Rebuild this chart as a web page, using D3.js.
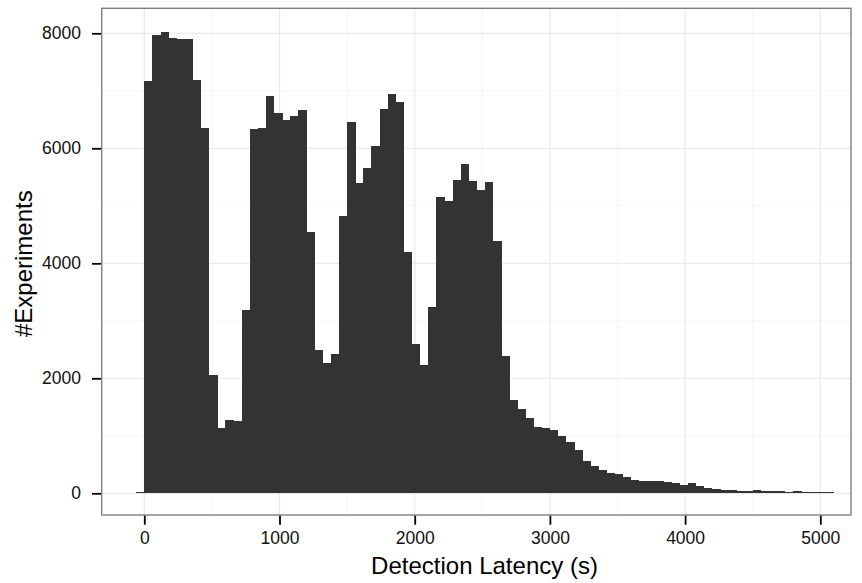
<!DOCTYPE html>
<html>
<head>
<meta charset="utf-8">
<script src="https://cdn.jsdelivr.net/npm/d3@7"></script>
<style>
  html, body { margin: 0; padding: 0; background: #fff; }
  svg { display: block; }
  text { font-family: "Liberation Sans", Arial, Helvetica, sans-serif; }
</style>
</head>
<body>
<svg id="chart" width="862" height="583"></svg>
<script>
// ---- data ----
const binWidth = 60; // seconds
const binStarts = d3.range(-60, 5100, 60);
const counts = [
  0,
  7170, 7976, 8023, 7918, 7901, 7901, 7188, 6353, 2058, 1136,
  1275, 1257, 3188, 6336, 6353, 6910, 6614, 6492, 6562, 6666,
  4544, 2497, 2271, 2423, 4823, 6458, 5397, 5658, 6040, 6684,
  6945, 6805, 4197, 2597, 2231, 3240, 5154, 5084, 5449, 5727,
  5432, 5275, 5414, 4388, 2388, 1623, 1466, 1309, 1153, 1136,
  1101, 997, 892, 753, 562, 475, 405, 353, 330, 278,
  231, 214, 214, 214, 197, 174, 144, 179, 127, 92,
  75, 57, 52, 40, 40, 57, 40, 40, 40, 23,
  40, 29, 23, 17, 10
];
const xTicks = [0, 1000, 2000, 3000, 4000, 5000];
const xMinor = [500, 1500, 2500, 3500, 4500];
const yTicks = [0, 2000, 4000, 6000, 8000];
const yMinor = [1000, 3000, 5000, 7000];
const xTitle = "Detection Latency (s)";
const yTitle = "#Experiments";

// ---- layout ----
const panel = { left: 101.7, right: 851, top: 8.3, bottom: 515 };
const x = d3.scaleLinear().domain([0, 5000]).range([144.3, 820.3]);
const y = d3.scaleLinear().domain([0, 8000]).range([493.3, 33.3]);

const svg = d3.select("#chart");

// panel background
svg.append("rect")
  .attr("x", panel.left).attr("y", panel.top)
  .attr("width", panel.right - panel.left).attr("height", panel.bottom - panel.top)
  .attr("fill", "#fff");

const grid = svg.append("g");
// minor grid
grid.selectAll("line.xmin").data(xMinor).join("line")
  .attr("x1", d => x(d)).attr("x2", d => x(d))
  .attr("y1", panel.top).attr("y2", panel.bottom)
  .attr("stroke", "#f7f7f7").attr("stroke-width", 1.3);
grid.selectAll("line.ymin").data(yMinor).join("line")
  .attr("y1", d => y(d)).attr("y2", d => y(d))
  .attr("x1", panel.left).attr("x2", panel.right)
  .attr("stroke", "#f7f7f7").attr("stroke-width", 1.3);
// major grid
grid.selectAll("line.xmaj").data(xTicks).join("line")
  .attr("x1", d => x(d)).attr("x2", d => x(d))
  .attr("y1", panel.top).attr("y2", panel.bottom)
  .attr("stroke", "#ebebeb").attr("stroke-width", 1.3);
grid.selectAll("line.ymaj").data(yTicks).join("line")
  .attr("y1", d => y(d)).attr("y2", d => y(d))
  .attr("x1", panel.left).attr("x2", panel.right)
  .attr("stroke", "#ebebeb").attr("stroke-width", 1.3);

// bars
const bins = binStarts.map((s, i) => ({ x0: s, x1: s + binWidth, n: counts[i] }));
svg.append("g").selectAll("rect").data(bins).join("rect")
  .attr("x", d => x(d.x0))
  .attr("width", d => x(d.x1) - x(d.x0) + 0.3)
  .attr("y", d => Math.min(y(d.n), y(0) - 1))
  .attr("height", d => Math.max(1, y(0) - y(d.n)))
  .attr("fill", "#333333")
  .attr("shape-rendering", "crispEdges");

// panel border
svg.append("rect")
  .attr("x", panel.left).attr("y", panel.top)
  .attr("width", panel.right - panel.left).attr("height", panel.bottom - panel.top)
  .attr("fill", "none").attr("stroke", "#7f7f7f").attr("stroke-width", 1.4);

// x axis
const xAxis = d3.axisBottom(x).tickValues(xTicks).tickSize(9).tickPadding(7).tickFormat(d3.format("d"));
const gx = svg.append("g").attr("transform", `translate(0,${panel.bottom + 0.7})`).call(xAxis);
gx.select(".domain").remove();
gx.selectAll(".tick line").attr("stroke", "#000").attr("stroke-width", 1.8);
gx.selectAll(".tick text").attr("fill", "#111").attr("font-size", 17.5)
  .style("font-family", '"Liberation Sans", Arial, sans-serif');

// y axis
const yAxis = d3.axisLeft(y).tickValues(yTicks).tickSize(9).tickPadding(11).tickFormat(d3.format("d"));
const gy = svg.append("g").attr("transform", `translate(${panel.left - 0.7},0)`).call(yAxis);
gy.select(".domain").remove();
gy.selectAll(".tick line").attr("stroke", "#000").attr("stroke-width", 1.8);
gy.selectAll(".tick text").attr("fill", "#111").attr("font-size", 17.5)
  .style("font-family", '"Liberation Sans", Arial, sans-serif');

// titles
svg.append("text")
  .attr("x", 484.5).attr("y", 574)
  .attr("text-anchor", "middle").attr("font-size", 24).attr("fill", "#000")
  .text(xTitle);
svg.append("text")
  .attr("transform", `translate(32,${(panel.top + panel.bottom) / 2 + 2}) rotate(-90)`)
  .attr("text-anchor", "middle").attr("font-size", 24).attr("fill", "#000")
  .text(yTitle);
</script>
</body>
</html>
